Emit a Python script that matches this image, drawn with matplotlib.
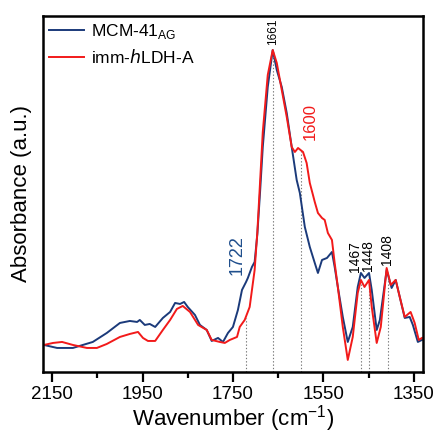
import numpy as np
import matplotlib.pyplot as plt

plt.rcParams['font.family'] = ['Liberation Sans', 'DejaVu Sans']

# MCM-41 AG spectrum (wavenumber, absorbance a.u.)
wn_mcm = [2168, 2139, 2104, 2082, 2060, 2029, 2000, 1978, 1962, 1956, 1945, 1934,
          1922, 1905, 1889, 1878, 1867, 1858, 1850, 1834, 1823, 1808, 1797, 1783,
          1772, 1761, 1750, 1739, 1730, 1721, 1717, 1708, 1702, 1696, 1690, 1684,
          1673, 1662, 1653, 1642, 1631, 1620, 1609, 1602, 1591, 1580, 1569, 1562,
          1553, 1542, 1531, 1525, 1518, 1507, 1496, 1485, 1474, 1467, 1459, 1449,
          1443, 1432, 1425, 1410, 1399, 1390, 1381, 1370, 1359, 1352, 1341, 1332]
ab_mcm = [0.27, 0.24, 0.24, 0.27, 0.30, 0.39, 0.49, 0.51, 0.50, 0.52, 0.47, 0.48,
          0.45, 0.54, 0.60, 0.69, 0.68, 0.70, 0.65, 0.57, 0.47, 0.42, 0.31, 0.34,
          0.30, 0.39, 0.45, 0.62, 0.82, 0.90, 0.94, 1.05, 1.10, 1.38, 1.80, 2.25,
          2.85, 3.22, 3.02, 2.85, 2.59, 2.25, 1.92, 1.79, 1.45, 1.25, 1.09, 0.99,
          1.12, 1.14, 1.20, 1.05, 0.85, 0.55, 0.30, 0.45, 0.85, 0.99, 0.94, 0.99,
          0.82, 0.42, 0.52, 1.02, 0.84, 0.92, 0.75, 0.54, 0.55, 0.47, 0.30, 0.32]

# imm-hLDH-A spectrum
wn_ldh = [2168, 2148, 2128, 2104, 2073, 2051, 2029, 2000, 1978, 1960, 1949, 1938,
          1922, 1905, 1889, 1874, 1861, 1845, 1827, 1808, 1797, 1779, 1768, 1757,
          1741, 1735, 1724, 1713, 1702, 1696, 1690, 1684, 1673, 1662, 1653, 1642,
          1631, 1620, 1613, 1606, 1595, 1587, 1580, 1573, 1569, 1562, 1553, 1547,
          1540, 1531, 1525, 1518, 1507, 1496, 1485, 1474, 1467, 1459, 1449, 1443,
          1432, 1423, 1410, 1401, 1390, 1381, 1370, 1357, 1348, 1339, 1332]
ab_ldh = [0.27, 0.29, 0.30, 0.27, 0.24, 0.24, 0.28, 0.35, 0.38, 0.40, 0.34, 0.31,
          0.31, 0.42, 0.52, 0.63, 0.66, 0.60, 0.47, 0.42, 0.32, 0.30, 0.29, 0.32,
          0.35, 0.45, 0.52, 0.65, 1.02, 1.40, 1.90, 2.40, 2.97, 3.22, 3.09, 2.82,
          2.55, 2.25, 2.20, 2.24, 2.20, 2.09, 1.89, 1.77, 1.70, 1.59, 1.54, 1.52,
          1.39, 1.32, 1.09, 0.85, 0.45, 0.12, 0.35, 0.79, 0.92, 0.85, 0.92, 0.65,
          0.29, 0.45, 1.04, 0.87, 0.92, 0.75, 0.55, 0.60, 0.49, 0.32, 0.34]

marks = [1722, 1661, 1600, 1467, 1448, 1408]

blue = '#1b3a7a'
red = '#f21a1a'

fig = plt.figure(figsize=(4.35, 4.33), dpi=100)
ax = fig.add_axes([0.099, 0.141, 0.873, 0.822])

ax.plot(wn_mcm, ab_mcm, color=blue, lw=1.4, label='MCM-41$_{\\mathregular{AG}}$')
ax.plot(wn_ldh, ab_ldh, color=red, lw=1.4, label='imm-$\\mathit{h}$LDH-A')

# dotted guide lines from the bottom up to the red trace
for m in marks:
    top = np.interp(m, wn_ldh[::-1], ab_ldh[::-1])
    ax.plot([m, m], [0, top], ls=(0, (1.2, 1.8)), color='#777777', lw=0.8, zorder=0)

ax.text(1661, 3.27, '1661', rotation=90, ha='center', va='bottom', fontsize=8.5)
ax.text(1741, 0.97, '1722', rotation=90, ha='center', va='bottom', fontsize=13, color='#1f4e8c')
ax.text(1578, 2.32, '1600', rotation=90, ha='center', va='bottom', fontsize=12, color=red)
ax.text(1480, 1.00, '1467', rotation=90, ha='center', va='bottom', fontsize=10)
ax.text(1452, 1.01, '1448', rotation=90, ha='center', va='bottom', fontsize=10)
ax.text(1410, 1.07, '1408', rotation=90, ha='center', va='bottom', fontsize=10)

ax.set_xlim(2170, 1330)
ax.set_ylim(0, 3.56)
ax.set_xticks([2150, 1950, 1750, 1550, 1350])
ax.set_xticks([2050, 1850, 1650, 1450], minor=True)
ax.set_yticks([])
ax.tick_params(axis='x', which='major', direction='out', length=7, width=1.6, labelsize=13.5, pad=3)
ax.tick_params(axis='x', which='minor', direction='out', length=4, width=1.6)
for s in ax.spines.values():
    s.set_linewidth(1.8)

ax.set_xlabel('Wavenumber (cm$^{\\mathregular{-1}}$)', fontsize=16, labelpad=0)
ax.set_ylabel('Absorbance (a.u.)', fontsize=16, labelpad=8)

leg = ax.legend(loc='upper left', frameon=False, fontsize=12.5, handlelength=2.0,
                borderaxespad=0.0, borderpad=0.35, handletextpad=0.4, labelspacing=0.38,
                bbox_to_anchor=(0.0, 1.0))

fig.savefig('out.png', dpi=100)
